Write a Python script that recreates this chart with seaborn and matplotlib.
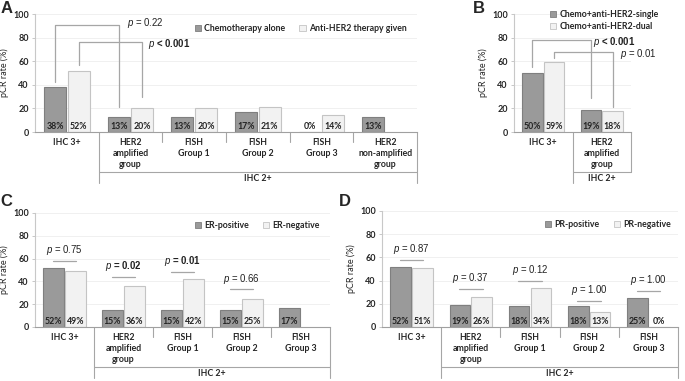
import matplotlib.pyplot as plt
import seaborn as sns
import pandas as pd
import numpy as np
from matplotlib.patches import Patch

sns.set_style("white")
plt.rcParams['font.family'] = ['Lato', 'DejaVu Sans']
plt.rcParams['mathtext.fontset'] = 'custom'
plt.rcParams['mathtext.it'] = 'Liberation Sans:italic'
plt.rcParams['mathtext.rm'] = 'Liberation Sans'

DARK, DARK_EDGE = '#9a9a9a', '#7f7f7f'
LIGHT, LIGHT_EDGE = '#f2f2f2', '#c4c4c4'
LINE = '#a6a6a6'

# ---- data ----
a_groups = ['IHC 3+', 'HER2\namplified\ngroup', 'FISH\nGroup 1', 'FISH\nGroup 2',
            'FISH\nGroup 3', 'HER2\nnon-amplified\ngroup']
a_series = ['Chemotherapy alone', 'Anti-HER2 therapy given']
a_chemo = [38, 13, 13, 17, 0, 13]
a_anti = [52, 20, 20, 21, 14, np.nan]

b_groups = ['IHC 3+', 'HER2\namplified\ngroup']
b_series = ['Chemo+anti-HER2-single', 'Chemo+anti-HER2-dual']
b_single = [50, 19]
b_dual = [59, 18]

cd_groups = ['IHC 3+', 'HER2\namplified\ngroup', 'FISH\nGroup 1', 'FISH\nGroup 2', 'FISH\nGroup 3']
c_series = ['ER-positive', 'ER-negative']
c_pos = [52, 15, 15, 15, 17]
c_neg = [49, 36, 42, 25, np.nan]
c_pvals = ['0.75', '0.02', '0.01', '0.66']
c_pline = [58, 44, 48, 33]

d_series = ['PR-positive', 'PR-negative']
d_pos = [52, 19, 18, 18, 25]
d_neg = [51, 26, 34, 13, 0]
d_pvals = ['0.87', '0.37', '0.12', '1.00', '1.00']
d_pline = [58, 33, 40, 22, 31]

FIG_W, FIG_H = 685, 381


def make_df(groups, series, first, second):
    rows = []
    for g, a, b in zip(groups, first, second):
        rows.append((g, series[0], a))
        rows.append((g, series[1], b))
    df = pd.DataFrame(rows, columns=['group', 'series', 'value'])
    return df.dropna()


def px_axes(left, top, right, bottom):
    return [left / FIG_W, 1 - bottom / FIG_H, (right - left) / FIG_W, (bottom - top) / FIG_H]


def bar_center(ax, hue_idx, cat_idx):
    for p in ax.containers[hue_idx].patches:
        c = p.get_x() + p.get_width() / 2
        if round(c) == cat_idx:
            return c
    return cat_idx


def draw_panel(fig, rect, groups, series, first, second, legend_pos, ncol):
    ax = fig.add_axes(px_axes(*rect))
    df = make_df(groups, series, first, second)
    sns.barplot(data=df, x='group', y='value', hue='series', order=groups,
                hue_order=series, palette=[DARK, LIGHT], width=0.74, gap=0.06,
                errorbar=None, linewidth=0.8, ax=ax)
    for cont, ec in zip(ax.containers, [DARK_EDGE, LIGHT_EDGE]):
        for p in cont.patches:
            p.set_edgecolor(ec)
            h = p.get_height()
            if not np.isnan(h):
                ax.text(p.get_x() + p.get_width() / 2, 1.0, f'{h:.0f}%', ha='center',
                        va='bottom', fontsize=6.3, weight='bold', color='#222222')
    ax.get_legend().remove()
    handles = [Patch(facecolor=DARK, edgecolor=DARK_EDGE, lw=0.6),
               Patch(facecolor=LIGHT, edgecolor=LIGHT_EDGE, lw=0.6)]
    ax.legend(handles, series, loc='center left', bbox_to_anchor=legend_pos, ncol=ncol,
              frameon=False, prop={'size': 6.3, 'weight': 'bold'}, handlelength=0.7,
              handleheight=0.7, handletextpad=0.35, columnspacing=1.6, borderaxespad=0,
              labelspacing=0.3)

    ax.set_ylim(0, 100)
    ax.set_xlim(-0.5, len(groups) - 0.5)
    ax.set_yticks(range(0, 101, 20))
    ax.set_yticklabels([str(v) for v in range(0, 101, 20)], fontsize=6.5, weight='bold')
    ax.yaxis.grid(True, color='#eeeeee', lw=0.6)
    ax.set_axisbelow(True)
    ax.set_xticks(range(len(groups)))
    ax.set_xticklabels(groups, fontsize=6.3, weight='bold', linespacing=1.3, va='top')
    ax.tick_params(axis='x', length=0, pad=4)
    ax.tick_params(axis='y', length=2.5, width=0.6, color='#bfbfbf', pad=2, left=True)
    ax.set_xlabel('')
    ax.set_ylabel('pCR rate (%)', fontsize=6.5, labelpad=3)
    sns.despine(ax=ax)
    ax.spines['left'].set_color('#c8c8c8')
    ax.spines['bottom'].set_color('#a0a0a0')
    ax.spines['left'].set_linewidth(0.8)
    ax.spines['bottom'].set_linewidth(0.8)

    # multi-level category axis (IHC 2+ group)
    h_px = rect[3] - rect[1]
    tr = ax.get_xaxis_transform()
    n = len(groups)
    hline, long_drop, short_drop = -40 / h_px, -51 / h_px, -10 / h_px
    for i in range(1, n):
        b = i - 0.5
        y_end = long_drop if i == 1 else short_drop
        ax.plot([b, b], [0, y_end], color=LINE, lw=0.8, transform=tr, clip_on=False)
    right_end = hline if n == 2 else long_drop
    ax.plot([n - 0.5, n - 0.5], [0, right_end], color=LINE, lw=0.8, transform=tr, clip_on=False)
    ax.plot([0.5, n - 0.5], [hline, hline], color=LINE, lw=0.8, transform=tr, clip_on=False)
    ax.text((0.5 + n - 0.5) / 2, hline - 2 / h_px, 'IHC 2+', transform=tr, ha='center',
            va='top', fontsize=6.3, weight='bold')
    return ax


def bracket(ax, x0, y0, x1, y1, top):
    ax.plot([x0, x0, x1, x1], [y0, top, top, y1], color=LINE, lw=0.9, clip_on=False)


def ptext(ax, x, y, s, bold=False, ha='left'):
    ax.text(x, y, r'$\mathit{p}$' + s, fontsize=6.9, ha=ha, va='center',
            family=['Liberation Sans', 'DejaVu Sans'],
            weight='bold' if bold else 'normal', color='#222222')


fig = plt.figure(figsize=(6.85, 3.81), dpi=100)

# A
axA = draw_panel(fig, (35, 14, 417, 132), a_groups, a_series, a_chemo, a_anti, (0.41, 0.88), 2)
bracket(axA, bar_center(axA, 0, 0), 42, bar_center(axA, 0, 1), 21, 91)
bracket(axA, bar_center(axA, 1, 0), 57, bar_center(axA, 1, 1), 30, 76)
ptext(axA, 0.94, 92, ' = 0.22')
ptext(axA, 1.28, 74.5, ' < 0.001', bold=True)

# B
axB = draw_panel(fig, (514, 14, 631, 132), b_groups, b_series, b_single, b_dual, (0.28, 0.945), 1)
bracket(axB, bar_center(axB, 0, 0), 55, bar_center(axB, 0, 1), 29, 78)
bracket(axB, bar_center(axB, 1, 0), 63, bar_center(axB, 1, 1), 21, 68)
ptext(axB, 0.85, 76, ' < 0.001', bold=True)
ptext(axB, 1.31, 66, ' = 0.01')

# C
axC = draw_panel(fig, (35, 213, 330, 327), cd_groups, c_series, c_pos, c_neg, (0.53, 0.886), 2)
for i, (pv, ly) in enumerate(zip(c_pvals, c_pline)):
    axC.plot([i - 0.2, i + 0.2], [ly, ly], color=LINE, lw=0.9)
    ptext(axC, i, ly + 9.5, ' = ' + pv, bold=float(pv) < 0.05, ha='center')

# D
axD = draw_panel(fig, (382, 211, 678, 327), cd_groups, d_series, d_pos, d_neg, (0.54, 0.88), 2)
for i, (pv, ly) in enumerate(zip(d_pvals, d_pline)):
    axD.plot([i - 0.2, i + 0.2], [ly, ly], color=LINE, lw=0.9)
    ptext(axD, i, ly + 9.5, ' = ' + pv, bold=float(pv) < 0.05, ha='center')

for x, y, s in [(0.001, 0.998, 'A'), (0.69, 0.998, 'B'), (0.001, 0.49, 'C'), (0.495, 0.49, 'D')]:
    fig.text(x, y, s, fontsize=12, weight='bold', va='top', ha='left',
             family=['Liberation Sans', 'DejaVu Sans'])

fig.savefig('out.png', dpi=100)
